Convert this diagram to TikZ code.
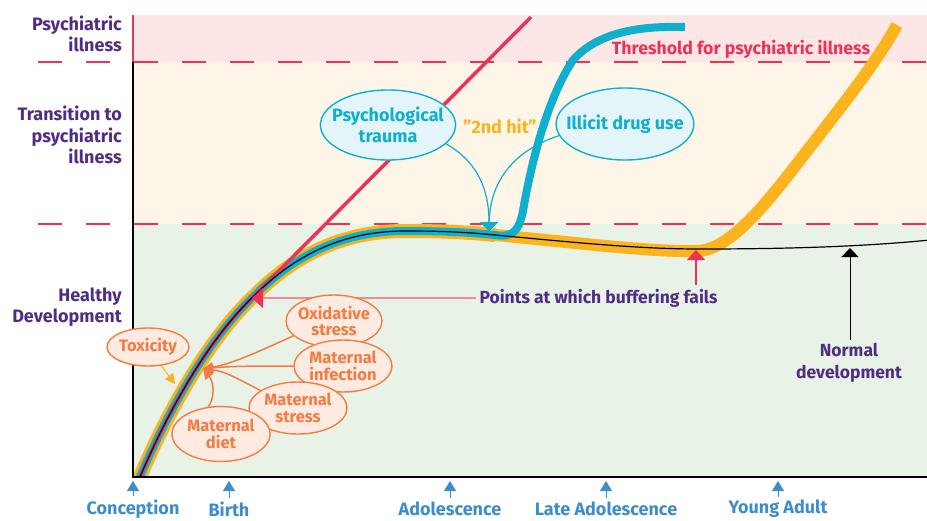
\documentclass[tikz,border=0pt]{standalone}
\usepackage{fontspec}
\setmainfont{Fira Sans}
\usepackage{tikz}
\usetikzlibrary{arrows.meta}
\usetikzlibrary{calc}
\usetikzlibrary{shapes}

\definecolor{labelpurple}{HTML}{4F2D84}
\definecolor{threshred}{HTML}{EE3157}
\definecolor{illpink}{HTML}{FCE7E6}
\definecolor{transcream}{HTML}{FDF6E8}
\definecolor{healthgreen}{HTML}{E8F2E6}
\definecolor{hitcyan}{HTML}{10AFCD}
\definecolor{hitfill}{HTML}{E4F5FA}
\definecolor{bufferorange}{HTML}{FBB41E}
\definecolor{causeorange}{HTML}{F27C43}
\definecolor{causefill}{HTML}{FDEBE2}
\definecolor{ageblue}{HTML}{3C8DCB}
\definecolor{failpink}{HTML}{F08A9C}

\newcommand{\trunkpath}{(137,484) .. controls (170,405) and (212,335) .. (255,295) .. controls (300,250) and (350,231) .. (405,231) .. controls (440,231) and (465,232) .. (495,235)}

\begin{document}
\begin{tikzpicture}[x=1pt, y=-1pt,
        band_label_style/.style={text=labelpurple, align=right, anchor=east, inner sep=0pt, font=\fontsize{18}{21.5}\selectfont\bfseries},
        hit_node_style/.style={ellipse, draw=hitcyan, fill=hitfill, text=hitcyan, line width=1.4pt, inner ysep=0pt, align=center, font=\fontsize{18}{21.5}\selectfont\bfseries},
        cause_node_style/.style={ellipse, draw=causeorange, fill=causefill, text=causeorange, line width=1.4pt, inner xsep=-3pt, inner ysep=0pt, align=center, minimum width=98pt, minimum height=52pt, font=\fontsize{16.5}{16.5}\selectfont\bfseries},
        age_node_style/.style={text=ageblue, font=\fontsize{18}{20}\selectfont\bfseries},
        note_node_style/.style={text=labelpurple, align=center, font=\fontsize{17.5}{22}\selectfont\bfseries},
        hit_edge_style/.style={draw=hitcyan, line width=1.2pt, -{Triangle[length=9pt, width=18pt]}},
        cause_edge_style/.style={draw=causeorange, line width=1.5pt, -{Triangle[length=10pt, width=10pt]}},
        tox_edge_style/.style={draw=bufferorange, line width=1pt, -{Triangle[length=10pt, width=10pt]}},
        age_edge_style/.style={draw=ageblue, line width=0.8pt, -{Triangle[length=10pt, width=12pt]}},
        threshold_style/.style={draw=threshred, line width=1.5pt, dash pattern=on 24pt off 24pt}]

        \useasboundingbox (0,0) rectangle (927,520);

        \fill [illpink] (133,15) rectangle (927,62);
        \fill [transcream] (133,62) rectangle (927,224);
        \fill [healthgreen] (133,224) rectangle (927,477);

        \draw [threshold_style] (38,62) -- (927,62);
        \draw [threshold_style] (38,224) -- (927,224);

        \begin{scope}
        \clip (133,15) rectangle (927,477);
        \draw [bufferorange, line width=12pt] \trunkpath .. controls (580,243) and (650,252) .. (697,251) .. controls (730,250) and (765,205) .. (800,160) .. controls (840,108) and (875,65) .. (897,25);
        \draw [bufferorange, line width=14pt] \trunkpath;
        \draw [hitcyan, line width=8pt] \trunkpath .. controls (512,238) and (520,232) .. (524,205) .. controls (534,150) and (550,95) .. (573,60) .. controls (600,30) and (645,26) .. (685,27);
        \draw [threshred, line width=3.5pt] (137,484) .. controls (170,405) and (212,335) .. (255,295) -- (531,17);
        \draw [black, line width=1.2pt] \trunkpath .. controls (580,243) and (640,249) .. (700,249) .. controls (780,249) and (860,247) .. (930,240);
        \end{scope}

        \draw [threshred, line width=2pt] (133,15) -- (133,62);
        \draw [black, line width=2pt] (133,62) -- (133,477) -- (927,477);

        \node [band_label_style](ill) at (122,34) {Psychiatric\\illness};
        \node [band_label_style](trans) at (122,135) {Transition to\\psychiatric\\illness};
        \node [band_label_style](healthy) at (122,307) {Healthy\\Development};

        \node [text=threshred, font=\fontsize{17.7}{20}\selectfont\bfseries](threshold) at (741,49) {Threshold for psychiatric illness};

        \node [hit_node_style, inner xsep=-8pt, minimum height=70pt](trauma) at (388,125) {Psychological\\trauma};
        \node [hit_node_style, inner xsep=-10pt, minimum height=72pt](drug) at (625,124) {Illicit drug use};
        \node [text=bufferorange, font=\fontsize{18}{20}\selectfont\bfseries](secondhit) at (500,126) {"2nd hit"};
        \coordinate (hit) at (489,231);

        \draw [hit_edge_style] (trauma.-18) .. controls (478,162) and (489,190) .. (hit);
        \draw [hit_edge_style] (drug.190) .. controls (515,150) and (490,180) .. (hit);

        \node [note_node_style, anchor=west](buffer) at (476,298) {Points at which buffering fails};
        \coordinate (fail1) at (252,298);
        \coordinate (fail2) at (696,250);
        \draw [draw=failpink, line width=1.2pt, -{Triangle[length=11pt, width=20pt, color=threshred]}] (buffer.west) -- (fail1);
        \draw [draw=threshred, line width=1.2pt, -{Triangle[length=10pt, width=18pt]}] (buffer.north -| fail2) -- (fail2);

        \node [note_node_style](normal) at (849,363) {Normal\\development};
        \coordinate (norm) at (850,248);
        \draw [black, line width=1pt, -{Triangle[length=9pt, width=17pt]}] (normal.north -| norm) -- (norm);

        \node [cause_node_style, minimum width=82pt, minimum height=38pt](tox) at (148,347) {Toxicity};
        \node [cause_node_style, minimum width=96pt](oxid) at (334,321) {Oxidative\\stress};
        \node [cause_node_style](infect) at (343,366) {Maternal\\infection};
        \node [cause_node_style](mstress) at (298,408) {Maternal\\stress};
        \node [cause_node_style, minimum height=55pt](diet) at (221,434) {Maternal\\diet};
        \coordinate (early) at (203,369);
        \coordinate (toxhit) at (175,384);

        \draw [tox_edge_style] (tox.-55) -- (toxhit);
        \draw [cause_edge_style] (oxid.200) .. controls (262,350) and (235,363) .. (early);
        \draw [cause_edge_style] (infect.west) .. controls (260,366) and (230,366) .. (early);
        \draw [cause_edge_style] (mstress.155) .. controls (240,380) and (225,371) .. (early);
        \draw [cause_edge_style] (diet.115) .. controls (215,398) and (214,382) .. (early);

        \node [age_node_style](conception) at (133,509) {Conception};
        \node [age_node_style](birth) at (229,509) {Birth};
        \node [age_node_style](adolescence) at (450,509) {Adolescence};
        \node [age_node_style](lateadol) at (606,509) {Late Adolescence};
        \node [age_node_style](young) at (778,509) {Young Adult};
        \coordinate (t1) at (133,481);
        \coordinate (t2) at (229,481);
        \coordinate (t3) at (450,481);
        \coordinate (t4) at (606,481);
        \coordinate (t5) at (778,481);

        \draw [age_edge_style] (conception.north) -- (t1);
        \draw [age_edge_style] (birth.north) -- (t2);
        \draw [age_edge_style] (adolescence.north) -- (t3);
        \draw [age_edge_style] (lateadol.north) -- (t4);
        \draw [age_edge_style] (young.north) -- (t5);

        \end{tikzpicture}
\end{document}
